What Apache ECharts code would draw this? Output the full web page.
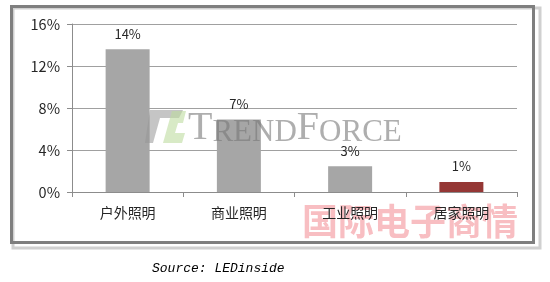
<!DOCTYPE html>
<html>
<head>
<meta charset="utf-8">
<script src="https://cdn.jsdelivr.net/npm/echarts@6/dist/echarts.min.js"></script>
<style>html,body{margin:0;padding:0;background:#fff;}#c{width:550px;height:282px;}</style>
</head>
<body>
<div id="c"></div>
<script>
const categories = ['户外照明', '商业照明', '工业照明', '居家照明'];
const values = [13.6, 6.9, 2.45, 0.95];
const valueLabels = ['14%', '7%', '3%', '1%'];
const barColors = ['#a6a6a6', '#a6a6a6', '#a6a6a6', '#953735'];
const yTicks = [0, 4, 8, 12, 16];

const chart = echarts.init(document.getElementById('c'), null, {renderer: 'canvas'});
const font = '"Noto Sans CJK SC", "Liberation Sans", sans-serif';
chart.setOption({
  animation: false,
  grid: {left: 72, right: 33, top: 24, bottom: 90},
  xAxis: {
    type: 'category',
    data: categories,
    zlevel: 1,
    axisLine: {lineStyle: {color: '#8c8c8c', width: 1}},
    axisTick: {show: true, length: 5, lineStyle: {color: '#8c8c8c'}},
    axisLabel: {color: '#262626', fontSize: 14, margin: 14, fontFamily: font}
  },
  yAxis: {
    type: 'value',
    min: 0, max: 16, interval: 4,
    axisLine: {show: true, lineStyle: {color: '#8c8c8c', width: 1}},
    axisTick: {show: true, length: 5, lineStyle: {color: '#8c8c8c'}},
    splitLine: {lineStyle: {color: '#a0a0a0', width: 1}},
    axisLabel: {color: '#262626', fontSize: 14.5, margin: 12, fontFamily: font,
      formatter: v => v + '%'}
  },
  series: [{
    type: 'bar',
    barWidth: 44,
    z: 1,
    data: values.map((v, i) => ({value: v, itemStyle: {color: barColors[i]},
      label: {formatter: valueLabels[i]}})),
    label: {show: true, position: 'top', distance: 9, color: '#262626', fontSize: 13, fontFamily: font}
  }],
  graphic: [
    // frame shadow
    {type: 'rect', z: -10, shape: {x: 13, y: 8, width: 527, height: 240},
      style: {fill: 'none', stroke: '#d0d0d0', lineWidth: 3}},
    {type: 'rect', z: -9, shape: {x: 11.5, y: 6.5, width: 522, height: 236},
      style: {fill: 'none', stroke: '#7f7f7f', lineWidth: 3}},
    // TrendForce logo
    {type: 'polygon', z: 100, shape: {points: [[150,110],[183,110],[179,118],[160,118],[153,143],[145,143]]},
      style: {fill: 'rgba(150,150,150,0.55)'}},
    {type: 'polygon', z: 100, shape: {points: [[172,111],[186,111],[183,123],[178,123],[175,133],[185,133],[182,143],[163,143]]},
      style: {fill: 'rgba(190,220,160,0.6)'}},
    {type: 'text', z: 100, left: 188, top: 108,
      style: {
        text: '{a|T}{b|REND}{a|F}{b|ORCE}',
        rich: {
          a: {fontFamily: '"Liberation Serif", serif', fontSize: 40, fill: 'rgba(120,120,120,0.6)', verticalAlign: 'bottom'},
          b: {fontFamily: '"Liberation Serif", serif', fontSize: 31, fill: 'rgba(120,120,120,0.6)', verticalAlign: 'bottom'}
        }
      }},
    // red watermark
    {type: 'text', z: -1, left: 302, top: 203,
      style: {text: '国际电子商情', fontFamily: '"Noto Sans CJK SC", sans-serif', fontWeight: 'bold',
        fontSize: 36, fill: 'rgba(240,110,120,0.45)'}},
    // source
    {type: 'text', left: 152, top: 262,
      style: {text: 'Source: LEDinside', fontFamily: '"Liberation Mono", monospace', fontStyle: 'italic',
        fontSize: 13, fill: '#000'}}
  ]
});
</script>
</body>
</html>
